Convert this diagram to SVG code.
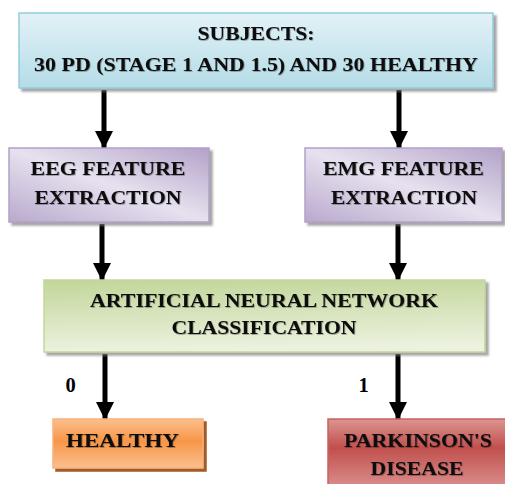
<svg xmlns="http://www.w3.org/2000/svg" width="505" height="484" viewBox="0 0 505 484">
  <defs>
    <linearGradient id="gBlue" x1="0" y1="0" x2="0" y2="1">
      <stop offset="0" stop-color="#e2f2f7"/>
      <stop offset="1" stop-color="#b5dce7"/>
    </linearGradient>
    <linearGradient id="gPurple" x1="1" y1="0" x2="0" y2="1">
      <stop offset="0" stop-color="#b3a2c8"/>
      <stop offset="0.5" stop-color="#e7e1ef"/>
      <stop offset="1" stop-color="#b9a9cd"/>
    </linearGradient>
    <linearGradient id="gGreen" x1="0" y1="0" x2="0.1" y2="1">
      <stop offset="0" stop-color="#c2d69a"/>
      <stop offset="1" stop-color="#ecf2df"/>
    </linearGradient>
    <linearGradient id="gOrange" x1="0" y1="0" x2="0" y2="1">
      <stop offset="0" stop-color="#fbbf8f"/>
      <stop offset="0.45" stop-color="#f79646"/>
      <stop offset="1" stop-color="#fac091"/>
    </linearGradient>
    <linearGradient id="gRed" x1="0" y1="0" x2="0" y2="1">
      <stop offset="0" stop-color="#dd9492"/>
      <stop offset="0.4" stop-color="#c0504d"/>
      <stop offset="1" stop-color="#dd9492"/>
    </linearGradient>
    <filter id="shadow" x="-10%" y="-10%" width="120%" height="130%">
      <feDropShadow dx="3" dy="3" stdDeviation="1" flood-color="#7f7f7f" flood-opacity="0.7"/>
    </filter>
    <filter id="shadowBrown" x="-10%" y="-10%" width="120%" height="130%">
      <feDropShadow dx="3" dy="3" stdDeviation="0.6" flood-color="#984807" flood-opacity="0.9"/>
    </filter>
    <filter id="txtShadow" x="-5%" y="-20%" width="110%" height="150%">
      <feDropShadow dx="0.8" dy="0.8" stdDeviation="0.6" flood-color="#000" flood-opacity="0.35"/>
    </filter>
    <marker id="arrow" markerUnits="userSpaceOnUse" markerWidth="18" markerHeight="18" refX="17" refY="9" orient="auto">
      <path d="M0,0 L18,9 L0,18 z" fill="#000"/>
    </marker>
  </defs>
  <style>
    .lbl { font-family: "Liberation Serif", "Times New Roman", serif; font-weight: bold; font-size: 19.5px; fill: #0d0d0d; text-anchor: middle; filter: url(#txtShadow); }
    .num { font-family: "Liberation Serif", "Times New Roman", serif; font-weight: bold; font-size: 20.5px; fill: #000; text-anchor: middle; }
    .conn { stroke: #000; stroke-width: 5; fill: none; marker-end: url(#arrow); }
  </style>

  <!-- connectors -->
  <g id="connectors">
    <line class="conn" x1="104" y1="90" x2="104" y2="148"/>
    <line class="conn" x1="399" y1="90" x2="399" y2="148"/>
    <line class="conn" x1="102" y1="224" x2="102" y2="280"/>
    <line class="conn" x1="398" y1="224" x2="398" y2="280"/>
    <line class="conn" x1="105" y1="354" x2="105" y2="419"/>
    <line class="conn" x1="398" y1="354" x2="398" y2="419"/>
    <text class="num" x="70.5" y="392">0</text>
    <text class="num" x="363.5" y="392">1</text>
  </g>

  <!-- input subjects -->
  <g id="subjects">
    <rect x="19" y="13" width="474" height="75" fill="url(#gBlue)" stroke="#93cddd" stroke-width="1.5" filter="url(#shadow)"/>
    <text class="lbl" x="256" y="39.5" textLength="117" lengthAdjust="spacingAndGlyphs">SUBJECTS:</text>
    <text class="lbl" x="256" y="70.5" textLength="444" lengthAdjust="spacingAndGlyphs">30 PD (STAGE 1 AND 1.5) AND 30 HEALTHY</text>
  </g>

  <!-- feature extraction -->
  <g id="eeg">
    <rect x="9" y="148" width="200" height="74" fill="url(#gPurple)" stroke="#b2a1c7" stroke-width="1.5" filter="url(#shadow)"/>
    <text class="lbl" x="108" y="175" textLength="155" lengthAdjust="spacingAndGlyphs">EEG FEATURE</text>
    <text class="lbl" x="108" y="204" textLength="147" lengthAdjust="spacingAndGlyphs">EXTRACTION</text>
  </g>
  <g id="emg">
    <rect x="305" y="148" width="197" height="74" fill="url(#gPurple)" stroke="#b2a1c7" stroke-width="1.5" filter="url(#shadow)"/>
    <text class="lbl" x="403.5" y="175" textLength="161" lengthAdjust="spacingAndGlyphs">EMG FEATURE</text>
    <text class="lbl" x="404" y="204" textLength="146" lengthAdjust="spacingAndGlyphs">EXTRACTION</text>
  </g>

  <!-- classifier -->
  <g id="ann">
    <rect x="44" y="280" width="441" height="72" fill="url(#gGreen)" stroke="#c3d69b" stroke-width="1.5" filter="url(#shadow)"/>
    <text class="lbl" x="264" y="306.5" textLength="348" lengthAdjust="spacingAndGlyphs">ARTIFICIAL NEURAL NETWORK</text>
    <text class="lbl" x="264" y="334" textLength="185" lengthAdjust="spacingAndGlyphs">CLASSIFICATION</text>
  </g>

  <!-- outcomes -->
  <g id="healthy">
    <rect x="53" y="419" width="150" height="49" fill="url(#gOrange)" stroke="#f9b17a" stroke-width="1.5" filter="url(#shadowBrown)"/>
    <text class="lbl" x="122.5" y="447" textLength="113" lengthAdjust="spacingAndGlyphs">HEALTHY</text>
  </g>
  <g id="parkinsons">
    <rect x="328" y="419" width="182" height="72" fill="url(#gRed)" stroke="#c8625f" stroke-width="1.5" filter="url(#shadow)"/>
    <text class="lbl" x="418" y="447" textLength="148" lengthAdjust="spacingAndGlyphs">PARKINSON'S</text>
    <text class="lbl" x="417" y="475" textLength="93" lengthAdjust="spacingAndGlyphs">DISEASE</text>
  </g>
</svg>
